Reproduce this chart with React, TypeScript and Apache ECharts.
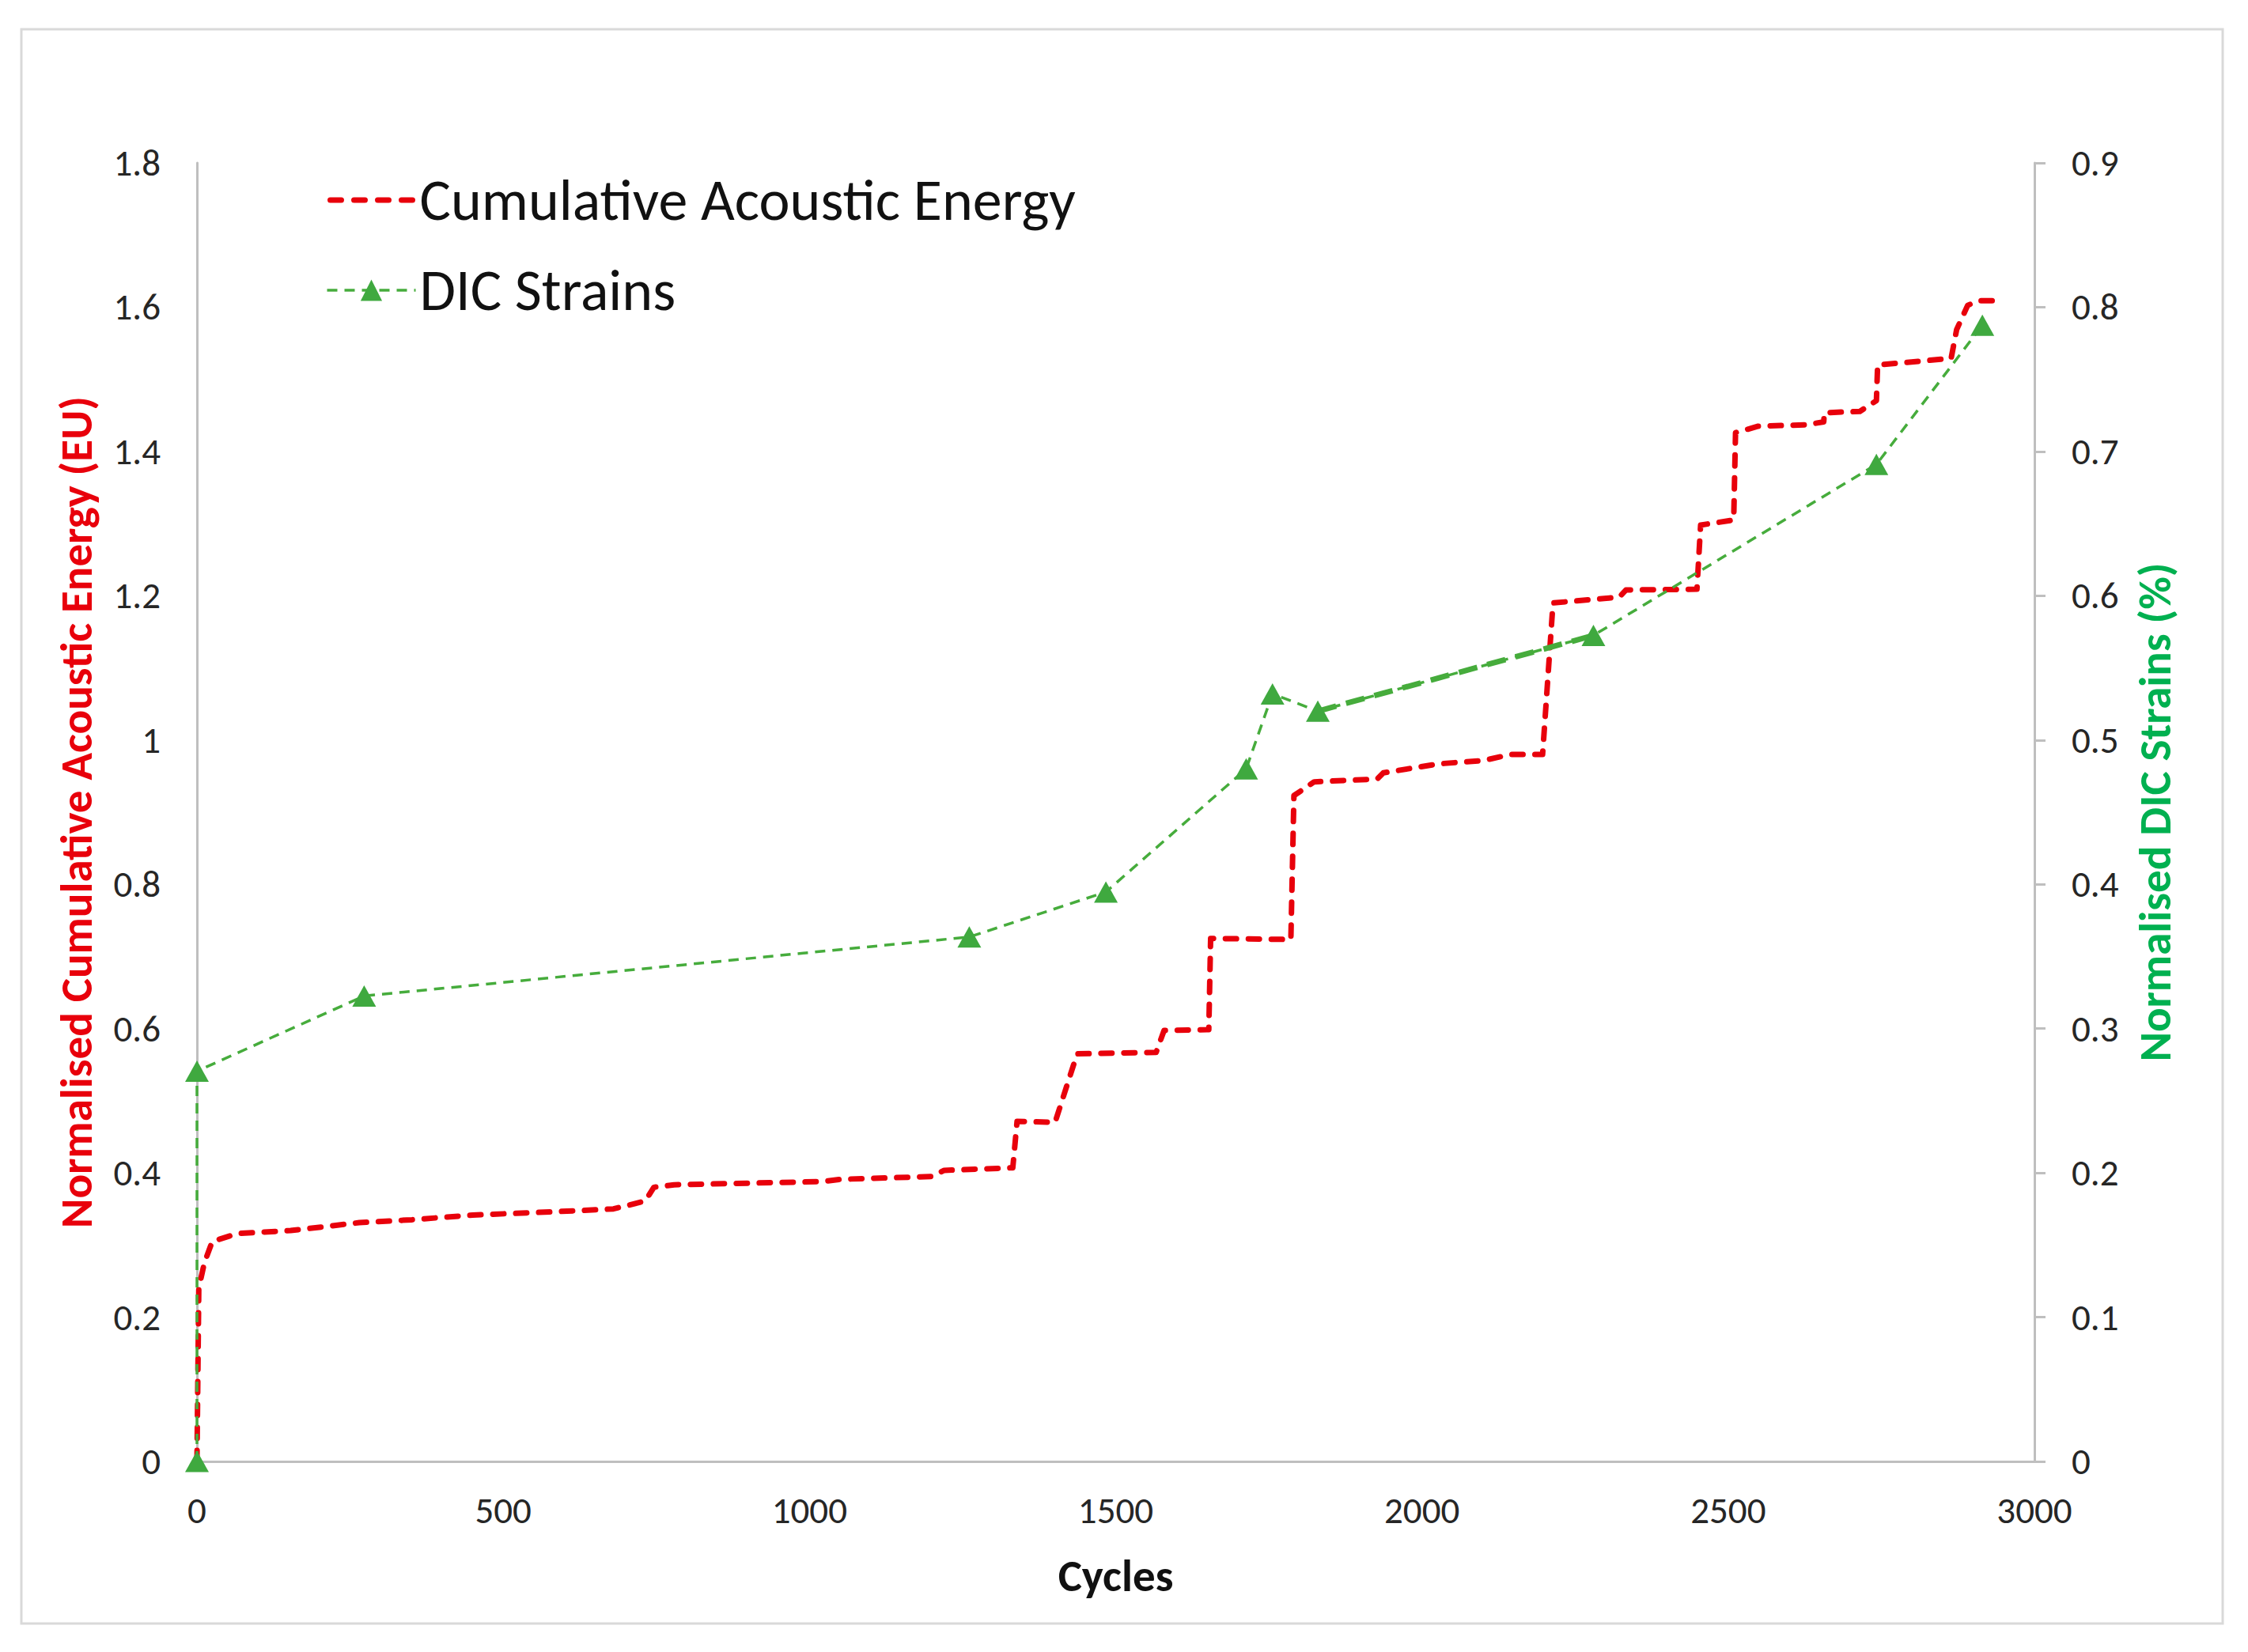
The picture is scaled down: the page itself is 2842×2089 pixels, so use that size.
import React, { useEffect, useRef } from "react";
import * as echarts from "echarts";

// ---- data ----
const aeCycles = [
  0, 3, 12, 25, 67, 153, 265, 351, 450, 581, 680, 732, 746, 779, 1022, 1049, 1200, 1220, 1332,
  1339, 1401, 1437, 1566, 1579, 1652, 1655, 1786, 1791, 1824, 1927, 1937, 2027, 2100, 2145,
  2197, 2214, 2322, 2333, 2449, 2455, 2509, 2512, 2549, 2628, 2656, 2657, 2715, 2742, 2744,
  2864, 2873, 2891, 2908, 2943,
];
const aeEnergy = [
  0, 0.24, 0.275, 0.305, 0.316, 0.32, 0.331, 0.335, 0.3415, 0.346, 0.35, 0.361, 0.38, 0.3835,
  0.388, 0.391, 0.395, 0.4035, 0.407, 0.4715, 0.47, 0.565, 0.567, 0.5975, 0.5985, 0.725,
  0.7235, 0.923, 0.942, 0.946, 0.9545, 0.967, 0.9715, 0.98, 0.98, 1.19, 1.198, 1.208, 1.209,
  1.298, 1.305, 1.426, 1.435, 1.437, 1.441, 1.4537, 1.4555, 1.4705, 1.52, 1.529, 1.569, 1.6025,
  1.609, 1.609,
];
const dicCycles = [0, 0, 273, 1261, 1484, 1713, 1756, 1830, 2280, 2742, 2915];
const dicStrain = [0, 0.2705, 0.3226, 0.3635, 0.3947, 0.48, 0.532, 0.52, 0.5725, 0.691, 0.7875];
// segment drawn heavier in the reference (between the 8th and 9th DIC points)
const dicBoldFrom = 7;
const dicBoldTo = 8;

const xTicks = [0, 500, 1000, 1500, 2000, 2500, 3000];
const leftTicks = [0, 0.2, 0.4, 0.6, 0.8, 1, 1.2, 1.4, 1.6, 1.8];
const rightTicks = [0, 0.1, 0.2, 0.3, 0.4, 0.5, 0.6, 0.7, 0.8, 0.9];

const seriesNames = ["Cumulative Acoustic Energy", "DIC Strains"];
const xTitle = "Cycles";
const leftTitle = "Normalised Cumulative Acoustic Energy (EU)";
const rightTitle = "Normalised DIC Strains (%)";

const FONT = "Carlito, Lato, 'Open Sans', sans-serif";
const RED = "#E8000B";
const GREEN_LINE = "#46AC3C";
const GREEN_MARK = "#3FA93F";
const GREEN_TITLE = "#00B050";
const AXIS_GRAY = "#BFBFBF";
const LABEL = "#262626";

const redLine = { color: RED, width: 7, type: [14, 15], cap: "round", join: "round" };
const greenLine = { color: GREEN_LINE, width: 3.5, type: [13, 9] };

export default function App() {
  const ref = useRef<HTMLDivElement>(null);

  useEffect(() => {
    const chart = echarts.init(ref.current!, null, { renderer: "svg" });
    const pairs = (xs: number[], ys: number[]) => xs.map((x, i) => [x, ys[i]]);
    const dicData = pairs(dicCycles, dicStrain);
    const plain = (v: number) => String(Math.round(v * 1000) / 1000);

    chart.setOption({
      animation: false,
      backgroundColor: "#ffffff",
      textStyle: { fontFamily: FONT },
      graphic: [
        {
          type: "rect",
          shape: { x: 27, y: 37, width: 2783, height: 2016 },
          style: { fill: "none", stroke: "#D9D9D9", lineWidth: 3 },
          z: -10,
        },
      ],
      grid: { left: 249, right: 270, top: 206, bottom: 241, containLabel: false },
      legend: {
        orient: "vertical",
        left: 405,
        top: 204,
        itemWidth: 112,
        itemHeight: 34,
        itemGap: 26,
        data: [
          {
            name: seriesNames[0],
            lineStyle: { ...redLine, type: [14, 16], dashOffset: -4 },
            itemStyle: { opacity: 0 },
          },
          { name: seriesNames[1], lineStyle: greenLine },
        ],
        textStyle: { fontSize: 74, color: "#111111", fontFamily: FONT, lineHeight: 88 },
      },
      xAxis: {
        type: "value",
        min: xTicks[0],
        max: xTicks[xTicks.length - 1],
        interval: xTicks[1] - xTicks[0],
        name: xTitle,
        nameLocation: "middle",
        nameGap: 116,
        nameTextStyle: { fontSize: 57, fontWeight: "bold", color: "#111111", fontFamily: FONT },
        axisLine: { show: true, lineStyle: { color: AXIS_GRAY, width: 3 } },
        axisTick: { show: false },
        splitLine: { show: false },
        axisLabel: { fontSize: 47, color: LABEL, margin: 38, fontFamily: FONT, formatter: plain },
      },
      yAxis: [
        {
          type: "value",
          position: "left",
          min: leftTicks[0],
          max: leftTicks[leftTicks.length - 1],
          interval: 0.2,
          name: leftTitle,
          nameLocation: "middle",
          nameRotate: 90,
          nameGap: 124,
          nameTextStyle: { fontSize: 57, fontWeight: "bold", color: RED, fontFamily: FONT },
          axisLine: { show: true, lineStyle: { color: AXIS_GRAY, width: 3 } },
          axisTick: { show: false },
          splitLine: { show: false },
          axisLabel: { fontSize: 47, color: LABEL, margin: 46, fontFamily: FONT, formatter: plain },
        },
        {
          type: "value",
          position: "right",
          min: rightTicks[0],
          max: rightTicks[rightTicks.length - 1],
          interval: 0.1,
          name: rightTitle,
          nameLocation: "middle",
          nameRotate: 90,
          nameGap: 124,
          nameTextStyle: { fontSize: 57, fontWeight: "bold", color: GREEN_TITLE, fontFamily: FONT },
          axisLine: { show: true, lineStyle: { color: AXIS_GRAY, width: 3 } },
          axisTick: { show: true, length: 14, lineStyle: { color: AXIS_GRAY, width: 3 } },
          splitLine: { show: false },
          axisLabel: { fontSize: 47, color: LABEL, margin: 47, fontFamily: FONT, formatter: plain },
        },
      ],
      series: [
        {
          name: seriesNames[0],
          type: "line",
          yAxisIndex: 0,
          data: pairs(aeCycles, aeEnergy),
          symbol: "none",
          showSymbol: false,
          clip: false,
          itemStyle: { color: RED },
          lineStyle: redLine,
          z: 2,
        },
        {
          name: seriesNames[1] + " (overlap)",
          type: "line",
          yAxisIndex: 1,
          data: dicData.slice(dicBoldFrom, dicBoldTo + 1),
          symbol: "none",
          showSymbol: false,
          clip: false,
          silent: true,
          itemStyle: { color: GREEN_LINE },
          lineStyle: { color: GREEN_LINE, width: 7, type: [24, 13] },
          z: 3,
        },
        {
          name: seriesNames[1],
          type: "line",
          yAxisIndex: 1,
          data: dicData,
          symbol: "triangle",
          symbolSize: [30, 27],
          showSymbol: true,
          clip: false,
          itemStyle: { color: GREEN_MARK },
          lineStyle: greenLine,
          z: 4,
        },
      ],
    });

    return () => chart.dispose();
  }, []);

  return (
    <div
      ref={ref}
      style={{ position: "absolute", left: 0, top: 0, width: 2842, height: 2089, background: "#ffffff" }}
    />
  );
}
